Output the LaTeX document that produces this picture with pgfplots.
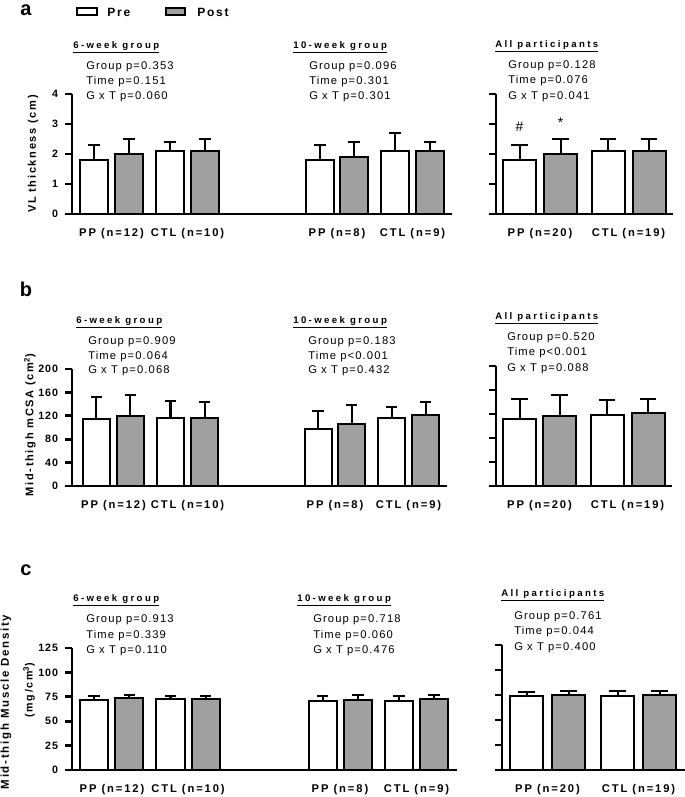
\documentclass[border=0pt]{standalone}
\usepackage{fontspec}
\setmainfont{Liberation Sans}
\newfontfamily\pf[LetterSpace=10]{Liberation Sans}
\newfontfamily\hf[LetterSpace=25]{Liberation Sans}
\newfontfamily\tf[LetterSpace=8]{Liberation Sans}
\newfontfamily\cf[LetterSpace=17]{Liberation Sans}
\newfontfamily\lf[LetterSpace=15]{Liberation Sans}
\usepackage{pgfplots}
\pgfplotsset{compat=1.18}
\definecolor{postgray}{RGB}{160,160,160}

% pixel position (x from left, y from top) of the 685x797 reference
\newcommand{\px}[2]{({(#1)*0.75pt},{(797-(#2))*0.75pt})}

\pgfplotsset{
  base/.style={
    scale only axis,
    axis x line=bottom, axis y line=left,
    axis line style={-, line width=2pt},
    enlargelimits=false, clip=false,
    ymin=0,
    tick align=outside, major tick length=5pt,
    ytick style={line width=2pt, black},
    xtick style={draw=none},
    yticklabel shift=2pt,
    yticklabel style={font=\tf\bfseries\fontsize{8}{9}\selectfont},
    xticklabel style={font=\cf\bfseries\fontsize{8.4}{10}\selectfont, anchor=center, yshift=-10pt},
    /pgf/number format/assume math mode=true,
    ybar, bar shift=0pt,
    error bars/y dir=plus, error bars/y explicit,
    error bars/error bar style={line width=1.5pt, black},
    error bars/error mark options={rotate=90, mark size=4.2pt, line width=1.5pt, black},
  },
  wide/.style={error bars/error mark options={rotate=90, mark size=6.2pt, line width=1.5pt, black}},
  pre/.style={draw=black, line width=1.5pt, fill=white},
  post/.style={draw=black, line width=1.5pt, fill=postgray},
}
\tikzset{
  ptxt/.style={anchor=west, inner sep=0pt, font=\pf\fontsize{8.4}{10}\selectfont},
  head/.style={anchor=west, inner sep=0pt, font=\hf\bfseries\fontsize{7.2}{9}\selectfont},
  ylab/.style={rotate=90, inner sep=0pt, font=\lf\bfseries\fontsize{8.3}{10}\selectfont},
  letter/.style={inner sep=0pt, font=\bfseries\fontsize{15}{18}\selectfont},
}

\begin{document}
\begin{tikzpicture}
\useasboundingbox \px{0}{0} rectangle \px{685}{797};

% ---------- legend ----------
\draw[line width=1.5pt, fill=white] \px{77}{8} rectangle \px{97}{15};
\node[anchor=west, inner sep=0pt, font=\lf\bfseries\fontsize{9}{10}\selectfont] at \px{107}{12} {Pre};
\draw[line width=1.5pt, fill=postgray] \px{166}{8} rectangle \px{185}{15};
\node[anchor=west, inner sep=0pt, font=\lf\bfseries\fontsize{9}{10}\selectfont] at \px{197}{12} {Post};

% ---------- panel a ----------
\node[letter] at \px{26}{10} {a};
\node[ylab] at \px{33}{154} {VL thickness (cm)};
\node[head] at \px{73}{47} {\underline{6-week group}};
\node[ptxt] at \px{86}{67} {Group p=0.353};
\node[ptxt] at \px{86}{82} {Time p=0.151};
\node[ptxt] at \px{86}{97} {G x T p=0.060};
\node[head] at \px{293}{47} {\underline{10-week group}};
\node[ptxt] at \px{309}{67} {Group p=0.096};
\node[ptxt] at \px{309}{82} {Time p=0.301};
\node[ptxt] at \px{309}{97} {G x T p=0.301};
\node[head] at \px{495}{46} {\underline{All participants}};
\node[ptxt] at \px{508}{66} {Group p=0.128};
\node[ptxt] at \px{508}{81} {Time p=0.076};
\node[ptxt] at \px{508}{97} {G x T p=0.041};

\begin{axis}[base, at={(54pt,437.25pt)}, anchor=south west,
  width=285pt, height=90pt, xmin=72, xmax=452, ymax=4, ytick={0,1,2,3,4},
  bar width=28,
  xtick={111.5,187.5,337,412.5},
  xticklabels={PP (n=12),CTL (n=10),PP (n=8),CTL (n=9)}]
\addplot[pre] coordinates {(94,1.8) +- (0,0.5) (170,2.1) +- (0,0.3) (320,1.8) +- (0,0.5) (395,2.1) +- (0,0.6)};
\addplot[post] coordinates {(129,2.0) +- (0,0.5) (205,2.1) +- (0,0.4) (354,1.9) +- (0,0.5) (430,2.1) +- (0,0.3)};
\end{axis}

\begin{axis}[base, wide, at={(372pt,437.25pt)}, anchor=south west,
  width=132.75pt, height=90pt, xmin=496, xmax=673, ymax=4, ytick={0,1,2,3,4},
  yticklabels={}, bar width=33,
  xtick={540,628.5},
  xticklabels={PP (n=20),CTL (n=19)}]
\addplot[pre] coordinates {(519.5,1.8) +- (0,0.5) (608,2.1) +- (0,0.4)};
\addplot[post] coordinates {(560.5,2.0) +- (0,0.5) (649,2.1) +- (0,0.4)};
\node[font=\fontsize{10.5}{12}\selectfont] at (axis cs:519.5,2.9) {\#};
\node[font=\fontsize{10.5}{12}\selectfont] at (axis cs:560.5,3.03) {*};
\end{axis}

% ---------- panel b ----------
\node[letter] at \px{26}{289} {b};
\node[ylab] at \px{30}{425} {Mid-thigh mCSA (cm\textsuperscript{2})};
\node[head] at \px{76}{322} {\underline{6-week group}};
\node[ptxt] at \px{88}{342} {Group p=0.909};
\node[ptxt] at \px{88}{357} {Time p=0.064};
\node[ptxt] at \px{88}{371} {G x T p=0.068};
\node[head] at \px{293}{322} {\underline{10-week group}};
\node[ptxt] at \px{308}{342} {Group p=0.183};
\node[ptxt] at \px{308}{357} {Time p<0.001};
\node[ptxt] at \px{308}{371} {G x T p=0.432};
\node[head] at \px{495}{318} {\underline{All participants}};
\node[ptxt] at \px{507}{338} {Group p=0.520};
\node[ptxt] at \px{507}{353} {Time p<0.001};
\node[ptxt] at \px{507}{369} {G x T p=0.088};

\begin{axis}[base, at={(54pt,233.25pt)}, anchor=south west,
  width=281.25pt, height=87.75pt, xmin=72, xmax=447, ymax=200, ytick={0,40,80,120,160,200},
  bar width=27,
  xtick={113.5,187.5,335,408.5},
  xticklabels={PP (n=12),CTL (n=10),PP (n=8),CTL (n=9)}]
\addplot[pre] coordinates {(96.5,115) +- (0,37) (170.5,116) +- (0,29) (318,98) +- (0,30) (391.5,116) +- (0,19)};
\addplot[post] coordinates {(130.5,120) +- (0,36) (204.5,116) +- (0,28) (351.5,106) +- (0,32) (425.5,122) +- (0,21)};
\end{axis}

\begin{axis}[base, wide, at={(372pt,233.25pt)}, anchor=south west,
  width=132pt, height=90pt, xmin=496, xmax=672, ymax=200, ytick={0,40,80,120,160,200},
  yticklabels={}, bar width=33,
  xtick={539.5,627.5},
  xticklabels={PP (n=20),CTL (n=19)}]
\addplot[pre] coordinates {(519.5,111) +- (0,34) (607,119) +- (0,24)};
\addplot[post] coordinates {(559.5,117) +- (0,35) (648,121) +- (0,24)};
\end{axis}

% ---------- panel c ----------
\node[letter] at \px{26}{570} {c};
\node[ylab, font=\lf\bfseries\fontsize{8.6}{10}\selectfont] at \px{6}{702} {Mid-thigh Muscle Density};
\node[ylab, font=\lf\bfseries\fontsize{8}{10}\selectfont] at \px{29}{690} {(mg/cm\textsuperscript{3})};
\node[head] at \px{73}{600} {\underline{6-week group}};
\node[ptxt] at \px{86}{620} {Group p=0.913};
\node[ptxt] at \px{86}{636} {Time p=0.339};
\node[ptxt] at \px{86}{651} {G x T p=0.110};
\node[head] at \px{297}{600} {\underline{10-week group}};
\node[ptxt] at \px{313}{620} {Group p=0.718};
\node[ptxt] at \px{313}{636} {Time p=0.060};
\node[ptxt] at \px{313}{651} {G x T p=0.476};
\node[head] at \px{501}{595} {\underline{All participants}};
\node[ptxt] at \px{514}{617} {Group p=0.761};
\node[ptxt] at \px{514}{632} {Time p=0.044};
\node[ptxt] at \px{514}{648} {G x T p=0.400};

\begin{axis}[base, at={(54pt,20.25pt)}, anchor=south west,
  width=288.75pt, height=91.5pt, xmin=72, xmax=457, ymax=125, ytick={0,25,50,75,100,125},
  bar width=28,
  xtick={112,188,340,416.5},
  xticklabels={PP (n=12),CTL (n=10),PP (n=8),CTL (n=9)}]
\addplot[pre] coordinates {(94,72) +- (0,4) (170.5,73) +- (0,2.5) (322.5,71) +- (0,5) (399,71) +- (0,5)};
\addplot[post] coordinates {(129.5,74) +- (0,3) (205.5,73) +- (0,3) (358,72) +- (0,4.5) (434,73) +- (0,3.5)};
\end{axis}

\begin{axis}[base, wide, at={(376.5pt,20.25pt)}, anchor=south west,
  width=137.25pt, height=93.75pt, xmin=502, xmax=685, ymax=125, ytick={0,25,50,75,100,125},
  yticklabels={}, bar width=33,
  xtick={547.5,638.5},
  xticklabels={PP (n=20),CTL (n=19)}]
\addplot[pre] coordinates {(526.5,74) +- (0,4) (617.5,74.5) +- (0,4)};
\addplot[post] coordinates {(568.5,75.5) +- (0,4) (659.5,75) +- (0,3.5)};
\end{axis}
\end{tikzpicture}
\end{document}
